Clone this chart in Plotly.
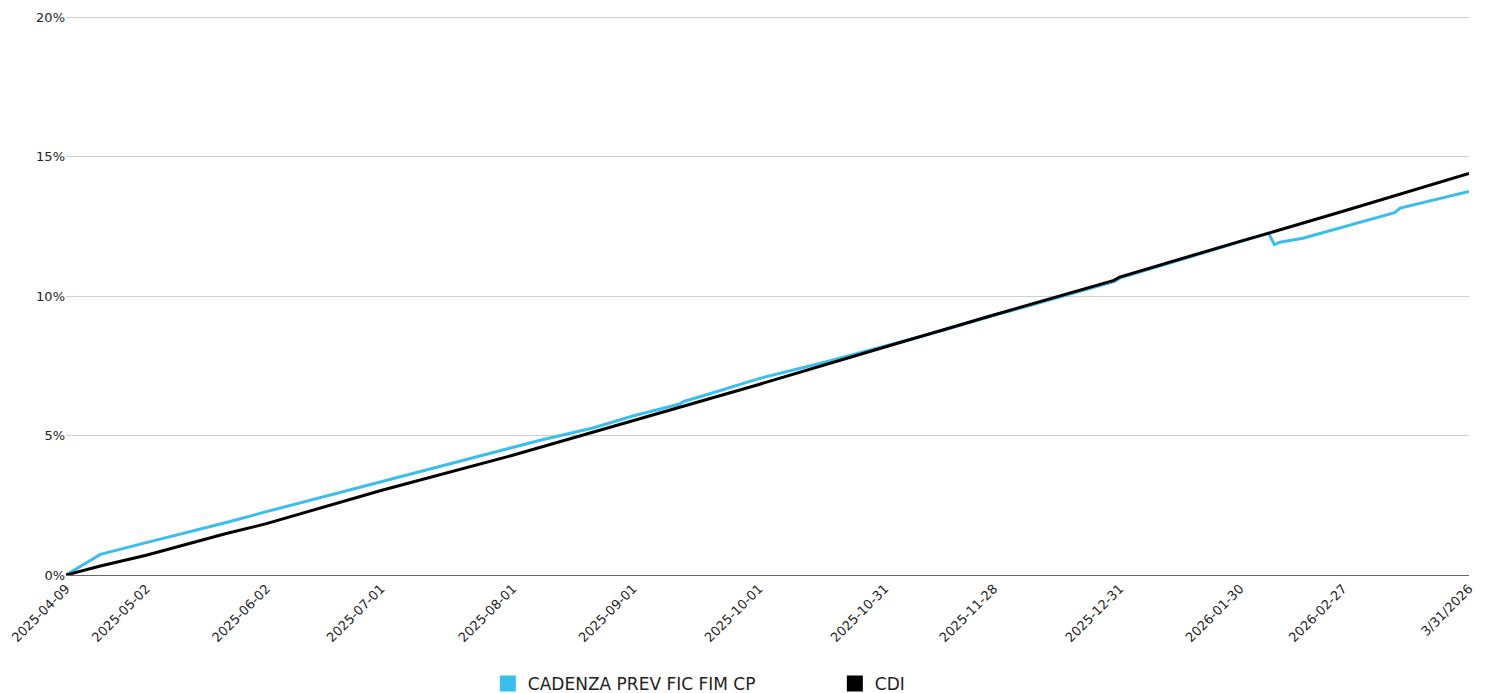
import pandas as pd
import plotly.graph_objects as go

# Business-day calendar (categories of the x axis)
start_date = "2025-04-09"
end_date = "2026-03-31"
holidays = ["2025-04-18", "2025-04-21", "2025-05-01", "2025-06-19", "2025-11-20",
            "2025-12-25", "2026-01-01", "2026-02-16", "2026-02-17"]
business_days = [d.strftime("%Y-%m-%d") for d in pd.bdate_range(start_date, end_date)
                 if d.strftime("%Y-%m-%d") not in holidays]

# Series values (cumulative return, %) read at sample dates
fund_dates = ["2025-04-09", "2025-04-14", "2025-04-17", "2025-05-02", "2025-05-22", "2025-06-02",
              "2025-07-01", "2025-07-02", "2025-08-01", "2025-08-08", "2025-08-21", "2025-09-01",
              "2025-09-11", "2025-09-12", "2025-09-18", "2025-09-26", "2025-10-01", "2025-10-17",
              "2025-10-31", "2025-11-14", "2025-11-28", "2025-12-03", "2025-12-30", "2025-12-31",
              "2026-01-30", "2026-02-06", "2026-02-09", "2026-02-10", "2026-02-18", "2026-02-27",
              "2026-03-12", "2026-03-13", "2026-03-31"]
fund_values = [0.00, 0.36, 0.74, 1.16, 1.88, 2.27,
               3.34, 3.39, 4.57, 4.84, 5.27, 5.70,
               6.12, 6.23, 6.47, 6.85, 7.04, 7.65,
               8.20, 8.76, 9.31, 9.47, 10.52, 10.64,
               11.94, 12.26, 11.84, 11.93, 12.07, 12.47,
               12.99, 13.15, 13.75]

cdi_dates = ["2025-04-09", "2025-04-17", "2025-05-02", "2025-05-22", "2025-06-02", "2025-07-01",
             "2025-08-01", "2025-09-01", "2025-10-01", "2025-10-31", "2025-11-28",
             "2025-12-30", "2025-12-31", "2026-01-30", "2026-02-09", "2026-02-27", "2026-03-31"]
cdi_values = [0.00, 0.32, 0.71, 1.49, 1.84, 3.03,
              4.29, 5.53, 6.83, 8.17, 9.32,
              10.56, 10.68, 11.96, 12.31, 13.04, 14.39]

tick_dates = ["2025-04-09", "2025-05-02", "2025-06-02", "2025-07-01", "2025-08-01", "2025-09-01",
              "2025-10-01", "2025-10-31", "2025-11-28", "2025-12-31", "2026-01-30", "2026-02-27",
              "2026-03-31"]
tick_labels = ["2025-04-09", "2025-05-02", "2025-06-02", "2025-07-01", "2025-08-01", "2025-09-01",
               "2025-10-01", "2025-10-31", "2025-11-28", "2025-12-31", "2026-01-30", "2026-02-27",
               "3/31/2026"]

y_ticks = [0, 5, 10, 15, 20]
y_tick_labels = ["0%", "5%", "10%", "15%", "20%"]

series_names = ["CADENZA PREV FIC FIM CP", "CDI"]
series_colors = ["#3BBDEE", "#000000"]

fig = go.Figure()
fig.add_trace(go.Scatter(x=fund_dates, y=fund_values, mode="lines", name=series_names[0],
                         line=dict(color=series_colors[0], width=3), showlegend=False))
fig.add_trace(go.Scatter(x=cdi_dates, y=cdi_values, mode="lines", name=series_names[1],
                         line=dict(color=series_colors[1], width=3), showlegend=False))
for nm, col in zip(series_names, series_colors):
    fig.add_trace(go.Scatter(x=[None], y=[None], mode="markers", name=nm,
                             marker=dict(symbol="square", size=20, color=col)))

font_family = "'DejaVu Sans', sans-serif"
fig.update_layout(
    width=1483, height=685,
    margin=dict(l=58, r=22, t=7, b=118, autoexpand=False),
    paper_bgcolor="white", plot_bgcolor="white",
    font=dict(family=font_family, size=14, color="#222222"),
    xaxis=dict(type="category", categoryorder="array", categoryarray=business_days,
               range=[0, len(business_days) - 1], automargin=False,
               tickmode="array", tickvals=tick_dates, ticktext=tick_labels,
               tickangle=-45, tickfont=dict(size=13, color="#222222"),
               showgrid=False, showline=True, linecolor="#666666", linewidth=1,
               ticks="", zeroline=False),
    yaxis=dict(range=[0, 20.072], tickmode="array", tickvals=y_ticks, ticktext=y_tick_labels,
               tickfont=dict(size=13, color="#222222"), automargin=False,
               showgrid=True, gridcolor="#D0D0D0", gridwidth=1, zeroline=False,
               ticks="", showline=False),
    legend=dict(orientation="h", x=0.548, xanchor="center", y=-0.1626, yanchor="top",
                font=dict(size=17, color="#222222"), entrywidth=302, entrywidthmode="pixels",
                itemsizing="trace"),
    showlegend=True,
)

fig.write_html("out.html")
